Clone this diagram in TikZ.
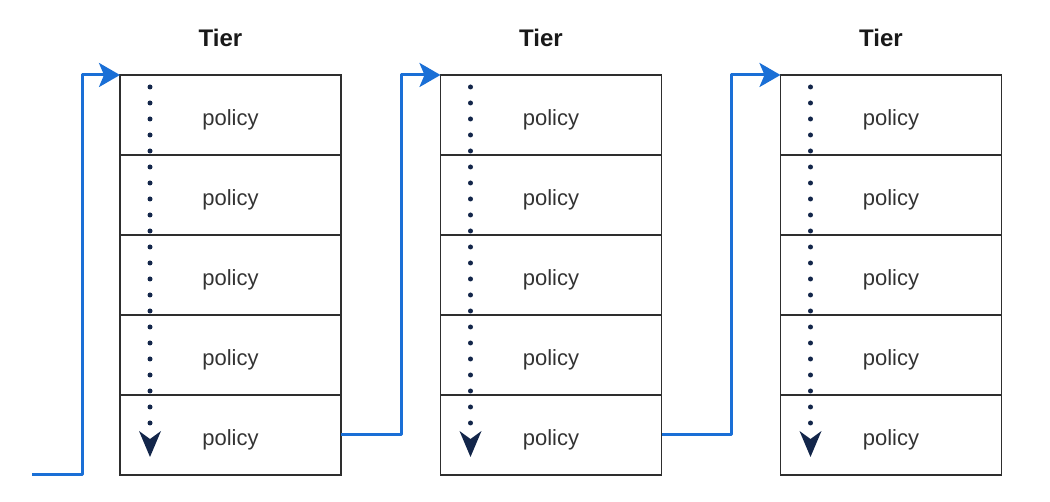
\documentclass[tikz,border=0pt]{standalone}
\usepackage{fontspec}
\setmainfont{Liberation Sans}
\usetikzlibrary{arrows.meta,calc}
\definecolor{flowblue}{HTML}{1A6FD6}
\definecolor{dotnavy}{HTML}{13264A}
\definecolor{boxgray}{HTML}{2E2E2E}
\tikzset{
  cell/.style={draw=boxgray,line width=1.5pt,minimum width=221pt,minimum height=80pt,inner sep=0pt,outer sep=0pt,font=\fontsize{22pt}{26pt}\selectfont,text=black!80},
  tiertitle/.style={font=\bfseries\fontsize{24pt}{26pt}\selectfont,text=black!90},
  flow/.style={draw=flowblue,line width=3pt,line join=round,-{Stealth[length=21pt,width=24pt,inset=5pt]}},
  order/.style={draw=dotnavy,line width=5pt,line cap=round,dash pattern=on 0pt off 16pt,-{Stealth[length=26pt,width=22pt,inset=8pt,line cap=butt,line width=0pt]}}
}
\begin{document}
\begin{tikzpicture}[x=1pt,y=-1pt]
\useasboundingbox (0,0) rectangle (1050,502);
\foreach \c/\x in {1/230.5,2/551,3/891}{
  \foreach \r in {1,...,5}{
    \node[cell] (c\c r\r) at (\x,{75+80*\r-40}) {\raisebox{-10.5pt}[0pt][0pt]{policy}};
  }
  \node[tiertitle] (t\c) at (\x-10,38) {Tier};
  \draw[order] ($(c\c r1.north west)+(30,12)$) -- ($(c\c r5.south west)+(30,-18)$);
}
\coordinate (start) at (32,475);
\draw[flow] (start) -- ++(50,0) |- (c1r1.north west);
\draw[flow] (c1r5.east) -- ++(60,0) |- (c2r1.north west);
\draw[flow] (c2r5.east) -- ++(70,0) |- (c3r1.north west);
\end{tikzpicture}
\end{document}
